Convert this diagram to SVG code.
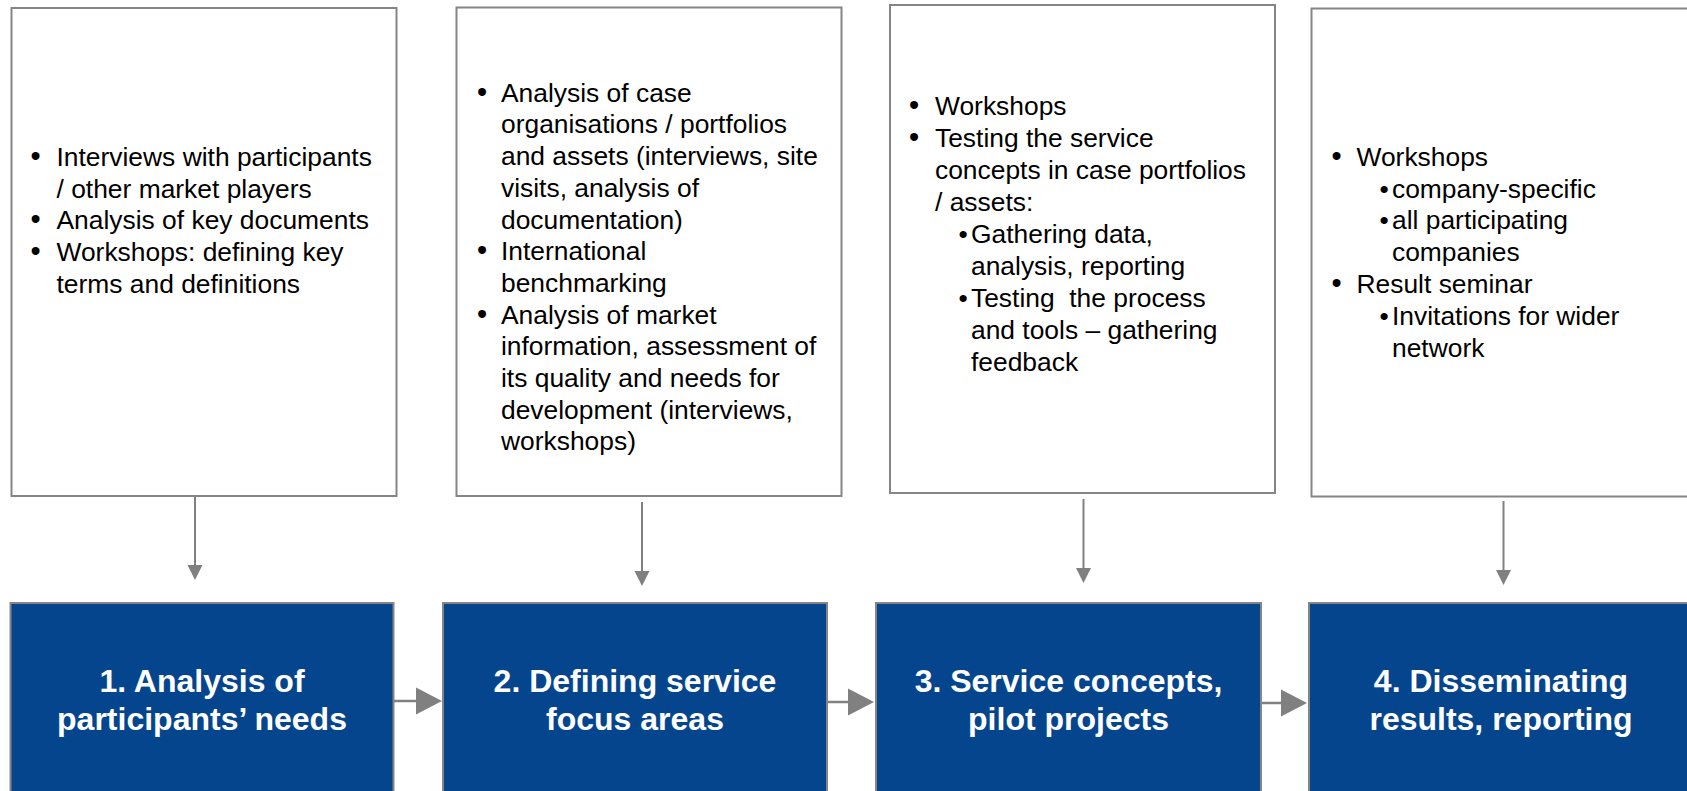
<svg xmlns="http://www.w3.org/2000/svg" width="1687" height="791" viewBox="0 0 1687 791">
<style>
.box{fill:#ffffff;stroke:#858585;stroke-width:2}
.step{fill:#05458d;stroke:#858585;stroke-width:2}
.t{font-family:"Liberation Sans",Arial,sans-serif;font-size:26.4px;fill:#000000}
.b{font-size:29px}
.h{font-family:"Liberation Sans",Arial,sans-serif;font-size:32px;font-weight:bold;fill:#ffffff;text-anchor:middle}
.c{stroke:#808080;fill:none}
.v{stroke-width:2;marker-end:url(#sv)}
.hz{stroke-width:2.5;marker-end:url(#sh)}
</style>
<defs>
<marker id="sv" markerUnits="userSpaceOnUse" markerWidth="16" markerHeight="16" refX="0" refY="7.5" orient="auto" overflow="visible">
<path d="M0,0 L15,7.5 L0,15 z" fill="#808080"/>
</marker>
<marker id="sh" markerUnits="userSpaceOnUse" markerWidth="28" markerHeight="28" refX="0" refY="13.5" orient="auto" overflow="visible">
<path d="M0,0 L26,13.5 L0,27 z" fill="#808080"/>
</marker>
</defs>

<g id="connectors">
<line class="c v" x1="195" y1="496" x2="195" y2="565"/>
<line class="c v" x1="642" y1="502" x2="642" y2="571"/>
<line class="c v" x1="1083.5" y1="499" x2="1083.5" y2="568"/>
<line class="c v" x1="1503.5" y1="501" x2="1503.5" y2="570"/>
<line class="c hz" x1="394" y1="701" x2="416" y2="701"/>
<line class="c hz" x1="827" y1="702" x2="848" y2="702"/>
<line class="c hz" x1="1261" y1="703" x2="1281" y2="703"/>
</g>

<g id="detail1">
<rect class="box" x="11.5" y="8" width="385" height="488"/>
<text class="t" y="166"><tspan class="b" x="30.5">•</tspan><tspan x="56.5">Interviews with participants</tspan></text>
<text class="t" x="56.5" y="197.7">/ other market players</text>
<text class="t" y="229.4"><tspan class="b" x="30.5">•</tspan><tspan x="56.5">Analysis of key documents</tspan></text>
<text class="t" y="261.1"><tspan class="b" x="30.5">•</tspan><tspan x="56.5">Workshops: defining key</tspan></text>
<text class="t" x="56.5" y="292.8">terms and definitions</text>
</g>

<g id="detail2">
<rect class="box" x="456.5" y="7.5" width="385" height="488.5"/>
<text class="t" y="101.7"><tspan class="b" x="477">•</tspan><tspan x="501">Analysis of case</tspan></text>
<text class="t" x="501" y="133.4">organisations / portfolios</text>
<text class="t" x="501" y="165.1">and assets (interviews, site</text>
<text class="t" x="501" y="196.8">visits, analysis of</text>
<text class="t" x="501" y="228.5">documentation)</text>
<text class="t" y="260.2"><tspan class="b" x="477">•</tspan><tspan x="501">International</tspan></text>
<text class="t" x="501" y="291.9">benchmarking</text>
<text class="t" y="323.6"><tspan class="b" x="477">•</tspan><tspan x="501">Analysis of market</tspan></text>
<text class="t" x="501" y="355.3">information, assessment of</text>
<text class="t" x="501" y="387">its quality and needs for</text>
<text class="t" x="501" y="418.7">development (interviews,</text>
<text class="t" x="501" y="450.4">workshops)</text>
</g>

<g id="detail3">
<rect class="box" x="890" y="5" width="385" height="488"/>
<text class="t" y="115"><tspan class="b" x="909">•</tspan><tspan x="935">Workshops</tspan></text>
<text class="t" y="147"><tspan class="b" x="909">•</tspan><tspan x="935">Testing the service</tspan></text>
<text class="t" x="935" y="179">concepts in case portfolios</text>
<text class="t" x="935" y="211">/ assets:</text>
<text class="t" y="243"><tspan x="958.5">•</tspan><tspan x="971">Gathering data,</tspan></text>
<text class="t" x="971" y="275">analysis, reporting</text>
<text class="t" y="307" style="white-space:pre"><tspan x="958.5">•</tspan><tspan x="971">Testing  the process</tspan></text>
<text class="t" x="971" y="339">and tools – gathering</text>
<text class="t" x="971" y="371">feedback</text>
</g>

<g id="detail4">
<rect class="box" x="1311.5" y="8.5" width="400" height="488"/>
<text class="t" y="165.7"><tspan class="b" x="1331.5">•</tspan><tspan x="1356.5">Workshops</tspan></text>
<text class="t" y="197.5"><tspan x="1379.5">•</tspan><tspan x="1392">company-specific</tspan></text>
<text class="t" y="229.3"><tspan x="1379.5">•</tspan><tspan x="1392">all participating</tspan></text>
<text class="t" x="1392" y="261.1">companies</text>
<text class="t" y="292.9"><tspan class="b" x="1331.5">•</tspan><tspan x="1356.5">Result seminar</tspan></text>
<text class="t" y="324.7"><tspan x="1379.5">•</tspan><tspan x="1392">Invitations for wider</tspan></text>
<text class="t" x="1392" y="356.5">network</text>
</g>

<g id="step1">
<rect class="step" x="10.5" y="603" width="383" height="200"/>
<text class="h" x="202" y="692">1. Analysis of</text>
<text class="h" x="202" y="730">participants’ needs</text>
</g>
<g id="step2">
<rect class="step" x="443" y="603" width="384" height="200"/>
<text class="h" x="635" y="692">2. Defining service</text>
<text class="h" x="635" y="730">focus areas</text>
</g>
<g id="step3">
<rect class="step" x="876" y="603" width="385" height="200"/>
<text class="h" x="1068.5" y="692">3. Service concepts,</text>
<text class="h" x="1068.5" y="730">pilot projects</text>
</g>
<g id="step4">
<rect class="step" x="1309" y="603" width="400" height="200"/>
<text class="h" x="1501" y="692">4. Disseminating</text>
<text class="h" x="1501" y="730">results, reporting</text>
</g>
</svg>
